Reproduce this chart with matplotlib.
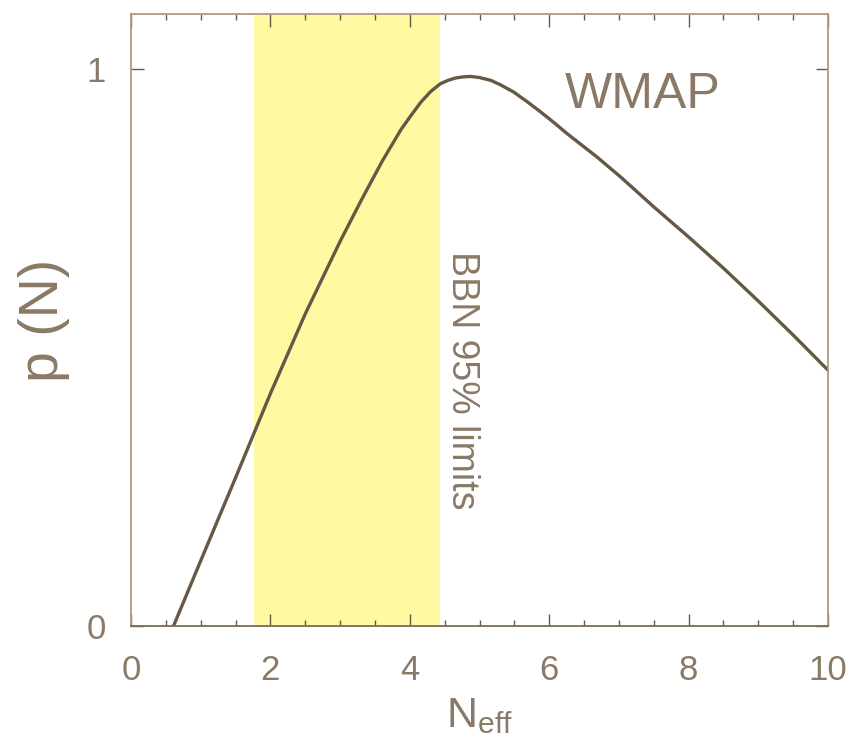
import matplotlib.pyplot as plt
from matplotlib.ticker import MultipleLocator

# -----------------------------
# Data
# -----------------------------
n_eff = [0.61, 1.0, 1.5, 2.0, 2.5, 3.0, 3.3, 3.6, 3.87, 4.0, 4.16, 4.3, 4.44, 4.55,
         4.65, 4.75, 4.87, 5.0, 5.16, 5.3, 5.49, 5.68, 5.88, 6.07, 6.26, 6.69,
         7.03, 7.5, 8.0, 8.5, 9.0, 9.5, 10.0]
p_n = [0.0, 0.117, 0.266, 0.417, 0.56, 0.69, 0.763, 0.833, 0.89, 0.913, 0.94, 0.959,
       0.973, 0.979, 0.983, 0.985, 0.986, 0.984, 0.979, 0.971, 0.958, 0.941, 0.922,
       0.903, 0.883, 0.841, 0.805, 0.752, 0.698, 0.642, 0.583, 0.522, 0.459]

bbn_low, bbn_high = 1.76, 4.44
x_ticks = [0, 2, 4, 6, 8, 10]
y_ticks = [0, 1]

LINE_COLOR = "#675846"
TEXT_COLOR = "#8a7966"
AXIS_COLOR = "#b09a7c"
BAND_COLOR = "#fff9a2"

plt.rcParams["font.family"] = ["Liberation Sans", "DejaVu Sans"]

fig = plt.figure(figsize=(8.52, 7.55), dpi=100)
ax = fig.add_axes([131 / 852, 1 - 626 / 755, (828 - 131) / 852, (626 - 14) / 755])

ax.axvspan(bbn_low, bbn_high, color=BAND_COLOR, lw=0, zorder=0)
ax.plot(n_eff, p_n, color=LINE_COLOR, lw=2.4, zorder=2, solid_joinstyle="round")

ax.set_xlim(0, 10)
ax.set_ylim(0, 1.098)
ax.set_xticks(x_ticks)
ax.set_yticks(y_ticks)
ax.xaxis.set_minor_locator(MultipleLocator(0.5))

for s in ax.spines.values():
    s.set_color(AXIS_COLOR)
    s.set_linewidth(1.3)
ax.spines["bottom"].set_color("#7a6c5c")

ax.tick_params(which="both", direction="in", top=True, right=True,
               color=LINE_COLOR, labelcolor=TEXT_COLOR, labelsize=25)
ax.tick_params(which="major", length=9, width=1.0)
ax.tick_params(axis="x", which="major", pad=20)
ax.tick_params(axis="y", which="major", pad=18)
ax.tick_params(which="minor", length=4, width=1.0)

ax.set_xlabel(r"N$_{\mathregular{eff}}$", fontsize=31, color=TEXT_COLOR, labelpad=7)
ax.set_ylabel("p (N)", fontsize=40, color=TEXT_COLOR)
ax.yaxis.set_label_coords(-0.088, 0.5)

ax.text(7.34, 0.952, "WMAP", fontsize=36, color=TEXT_COLOR, ha="center", va="center")
ax.text(4.75, 0.672, "BBN 95% limits", fontsize=27, color=TEXT_COLOR,
        rotation=-90, ha="center", va="top")

fig.savefig("out.png", dpi=100)
